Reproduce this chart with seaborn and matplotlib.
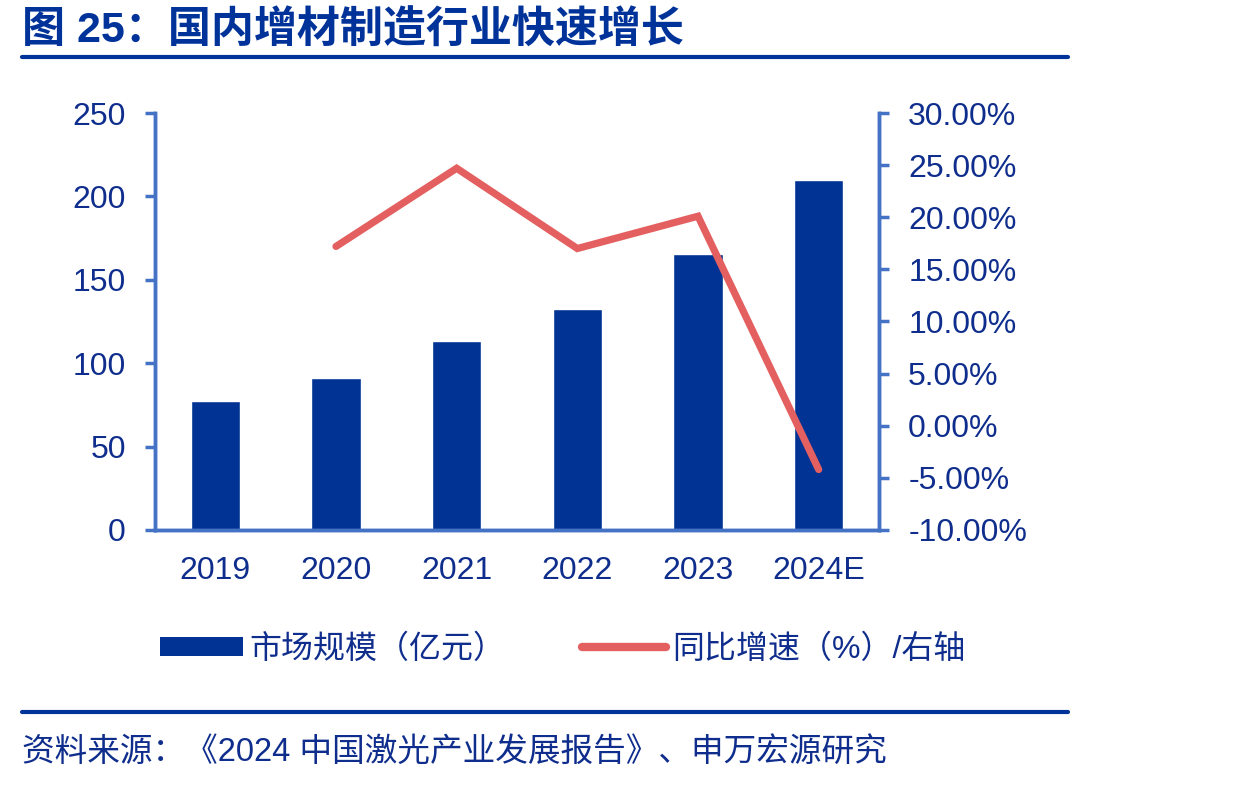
"""
国内增材制造行业快速增长 - bar + line on twin axes
"""
import numpy as np
import pandas as pd
import matplotlib
matplotlib.use("Agg")
import matplotlib.pyplot as plt
from matplotlib.lines import Line2D
from matplotlib.patches import Patch
from matplotlib.ticker import FuncFormatter
import seaborn as sns

# data
years = ['2019', '2020', '2021', '2022', '2023', '2024E']
market_size = [77.3, 91.0, 113.3, 132.5, 165.5, 209.8]      # 亿元
growth_years = ['2020', '2021', '2022', '2023', '2024E']
growth_pct = [17.2, 24.7, 17.0, 20.1, -4.2]                 # %

sns.set_style("white")
plt.rcParams['font.family'] = ['Liberation Sans', 'Noto Sans CJK SC', 'DejaVu Sans']

BAR = '#003393'
LINE = '#E46060'
AXIS = '#4472C4'
TEXT = '#0F2D8C'

fig = plt.figure(figsize=(12.37, 7.87), dpi=100)
ax = fig.add_axes([0.1253, 0.3266, 0.5853, 0.5298])

df = pd.DataFrame({'year': years, 'size': market_size})
sns.barplot(data=df, x='year', y='size', color=BAR, saturation=1,
            width=0.41, ax=ax)

ax2 = ax.twinx()
pos = {y: i for i, y in enumerate(years)}
gdf = pd.DataFrame({'x': [pos[y] for y in growth_years],
                    'g': growth_pct})
sns.lineplot(data=gdf, x='x', y='g', color=LINE, linewidth=5.2,
             solid_capstyle='round', solid_joinstyle='miter', ax=ax2)

# axes ranges / ticks
ax.set_xlim(-0.5, len(years) - 0.5)
ax.set_ylim(0, 250)
ax.set_yticks(np.arange(0, 251, 50))
ax2.set_ylim(-10, 30)
ax2.set_yticks(np.arange(-10, 31, 5))
ax2.yaxis.set_major_formatter(FuncFormatter(lambda v, p: f'{v:.2f}%'))

ax.set_xticks(np.arange(-0.5, len(years), 1.0))
ax.set_xticklabels([])
ax.set_xticks(np.arange(len(years)), minor=True)
ax.set_xticklabels(years, minor=True)
ax.tick_params(axis='x', which='major', length=8, width=2.5, color=AXIS,
               direction='out')
ax.tick_params(axis='x', which='minor', length=0, pad=19,
               labelsize=23, labelcolor=TEXT)
ax.tick_params(axis='y', length=7, width=2.5, color=AXIS, direction='out',
               labelsize=23, labelcolor=TEXT, pad=14)
ax2.tick_params(axis='y', length=7, width=2.5, color=AXIS, direction='out',
                labelsize=23, labelcolor=TEXT, pad=14)

for a in (ax, ax2):
    a.set_xlabel('')
    a.set_ylabel('')
    a.grid(False)
    a.spines['top'].set_visible(False)
    for s in ('left', 'right', 'bottom'):
        a.spines[s].set_color(AXIS)
        a.spines[s].set_linewidth(2.5)
        a.spines[s].set_visible(True)

# legend
handles = [Patch(facecolor=BAR, edgecolor='none', label='市场规模（亿元）'),
           Line2D([0], [0], color=LINE, linewidth=6, solid_capstyle='round',
                  label='同比增速（%）/右轴')]
leg = fig.legend(handles=handles, loc='center', ncol=2,
                 bbox_to_anchor=(0.455, 0.175), frameon=False,
                 fontsize=23, handlelength=2.6, handleheight=0.55,
                 handletextpad=0.2, columnspacing=2.4)
for t in leg.get_texts():
    t.set_color(TEXT)

# title, rules and source
fig.text(0.018, 0.961, '图 25：国内增材制造行业快速增长', fontsize=31,
         fontweight='bold', color='#003399', va='center', ha='left')
fig.add_artist(Line2D([0.018, 0.863], [0.9276, 0.9276], color='#003399',
                      linewidth=3, transform=fig.transFigure))
fig.add_artist(Line2D([0.018, 0.863], [0.0953, 0.0953], color='#003399',
                      linewidth=3, transform=fig.transFigure))
fig.text(0.018, 0.0445, '资料来源：《2024 中国激光产业发展报告》、申万宏源研究',
         fontsize=23.5, color=TEXT, va='center', ha='left')

fig.savefig('out.png', dpi=100)
